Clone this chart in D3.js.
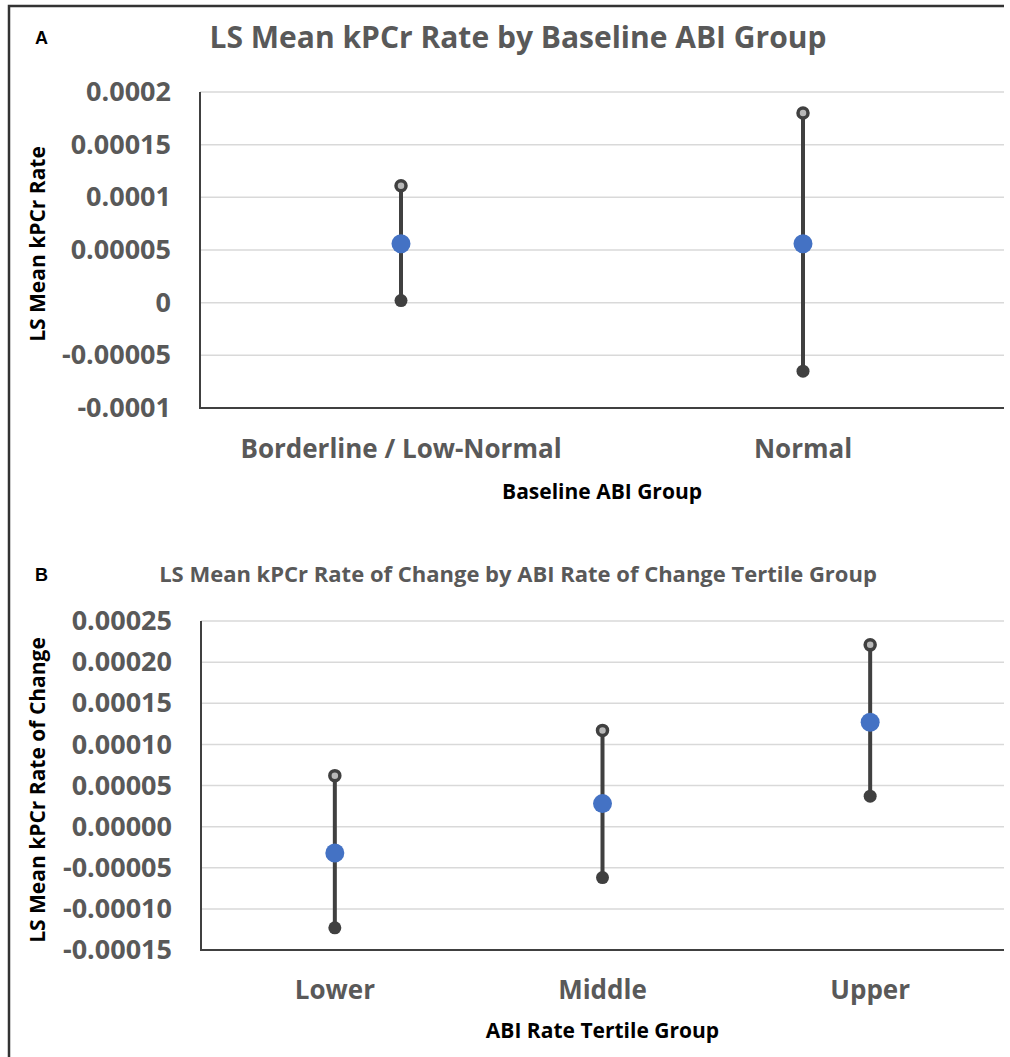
<!DOCTYPE html>
<html>
<head>
<meta charset="utf-8">
<script src="https://cdn.jsdelivr.net/npm/d3@7"></script>
<style>
  body { margin: 0; background: #fff; }
  svg { display: block; font-family: "Open Sans", sans-serif; }
</style>
</head>
<body>
<div id="chart"></div>
<script>
// panel A: LS mean kPCr rate by baseline ABI group
const abiGroups = ['Borderline / Low-Normal', 'Normal'];
const abiMean = [0.000056, 0.000056];
const abiUpper = [0.000111, 0.00018];
const abiLower = [0.000002, -0.000065];
const abiTicks = [-0.0001, -0.00005, 0, 0.00005, 0.0001, 0.00015, 0.0002];
const abiTickLabels = ['-0.0001', '-0.00005', '0', '0.00005', '0.0001', '0.00015', '0.0002'];

// panel B: LS mean kPCr rate of change by ABI rate tertile
const tertileGroups = ['Lower', 'Middle', 'Upper'];
const tertileMean = [-0.000032, 0.000028, 0.000127];
const tertileUpper = [0.000062, 0.000117, 0.000221];
const tertileLower = [-0.000123, -0.000062, 0.000037];
const tertileTicks = [-0.00015, -0.0001, -0.00005, 0, 0.00005, 0.0001, 0.00015, 0.0002, 0.00025];
const tertileTickLabels = ['-0.00015', '-0.00010', '-0.00005', '0.00000', '0.00005', '0.00010', '0.00015', '0.00020', '0.00025'];

const W = 1010, H = 1057;
const svg = d3.select('#chart').append('svg')
  .attr('width', W)
  .attr('height', H);

// outer frame (top + left only, the rest is cropped)
svg.append('path')
  .attr('d', `M9,${H} L9,6 L1004,6`)
  .attr('fill', 'none')
  .attr('stroke', '#333')
  .attr('stroke-width', 2.5);

function drawPanel(p) {
  const g = svg.append('g');

  const x = d3.scaleBand().domain(p.groups).range([p.left, p.right]).padding(0);
  const y = d3.scaleLinear().domain(p.domain).range([p.bottom, p.top]);

  // panel letter
  g.append('text')
    .attr('x', 35).attr('y', p.letterY)
    .style('font-family', 'Arial, "Liberation Sans", sans-serif')
    .style('font-weight', 'bold')
    .style('font-size', '18px')
    .attr('fill', '#000')
    .text(p.letter);

  // title
  g.append('text')
    .attr('x', 518).attr('y', p.titleY)
    .attr('text-anchor', 'middle')
    .style('font-weight', 'bold')
    .style('font-size', p.titleSize + 'px')
    .attr('fill', '#595959')
    .text(p.title);

  // gridlines
  g.append('g')
    .selectAll('line')
    .data(p.ticks.slice(1))
    .join('line')
    .attr('x1', p.left).attr('x2', p.right)
    .attr('y1', d => y(d)).attr('y2', d => y(d))
    .attr('stroke', '#d9d9d9')
    .attr('stroke-width', 1.5);

  // y axis labels
  const yAxis = d3.axisLeft(y)
    .tickValues(p.ticks)
    .tickFormat((d, i) => p.tickLabels[i])
    .tickSize(0)
    .tickPadding(29);
  const ya = g.append('g')
    .attr('transform', `translate(${p.left},0)`)
    .call(yAxis);
  ya.select('.domain').remove();
  ya.selectAll('text')
    .style('font-family', '"Open Sans", sans-serif')
    .style('font-weight', 'bold')
    .style('font-size', p.tickSize + 'px')
    .attr('fill', '#595959');

  // x axis labels
  const xAxis = d3.axisBottom(x).tickSize(0).tickPadding(p.xPad);
  const xa = g.append('g')
    .attr('transform', `translate(0,${p.bottom})`)
    .call(xAxis);
  xa.select('.domain').remove();
  xa.selectAll('text')
    .style('font-family', '"Open Sans", sans-serif')
    .style('font-weight', 'bold')
    .style('font-size', p.xLabelSize + 'px')
    .attr('fill', '#595959');

  // axis lines
  g.append('path')
    .attr('d', `M${p.left},${p.top} L${p.left},${p.bottom} L${p.right},${p.bottom}`)
    .attr('fill', 'none')
    .attr('stroke', '#404040')
    .attr('stroke-width', 2);

  // axis titles
  g.append('text')
    .attr('x', (p.left + p.right) / 2).attr('y', p.xTitleY)
    .attr('text-anchor', 'middle')
    .style('font-weight', 'bold')
    .style('font-size', p.axisTitleSize + 'px')
    .attr('fill', '#000')
    .text(p.xTitle);

  g.append('text')
    .attr('transform', `translate(45,${p.yTitleY}) rotate(-90)`)
    .attr('text-anchor', 'middle')
    .style('font-weight', 'bold')
    .style('font-size', p.axisTitleSize + 'px')
    .attr('fill', '#000')
    .text(p.yTitle);

  const cx = d => x(d) + x.bandwidth() / 2;

  // error bars
  g.append('g').selectAll('line')
    .data(p.groups)
    .join('line')
    .attr('x1', cx).attr('x2', cx)
    .attr('y1', (d, i) => y(p.upper[i]))
    .attr('y2', (d, i) => y(p.lower[i]))
    .attr('stroke', '#404040')
    .attr('stroke-width', 4);

  // upper caps: rings
  g.append('g').selectAll('circle')
    .data(p.groups)
    .join('circle')
    .attr('cx', cx)
    .attr('cy', (d, i) => y(p.upper[i]))
    .attr('r', 5)
    .attr('fill', '#b8b8b8')
    .attr('stroke', '#404040')
    .attr('stroke-width', 3.5);

  // lower caps: filled
  g.append('g').selectAll('circle')
    .data(p.groups)
    .join('circle')
    .attr('cx', cx)
    .attr('cy', (d, i) => y(p.lower[i]))
    .attr('r', 6.5)
    .attr('fill', '#404040');

  // means
  g.append('g').selectAll('circle')
    .data(p.groups)
    .join('circle')
    .attr('cx', cx)
    .attr('cy', (d, i) => y(p.mean[i]))
    .attr('r', 9.5)
    .attr('fill', '#4472c4');
}

drawPanel({
  letter: 'A', letterY: 44,
  title: 'LS Mean kPCr Rate by Baseline ABI Group', titleY: 48, titleSize: 30,
  groups: abiGroups, mean: abiMean, upper: abiUpper, lower: abiLower,
  ticks: abiTicks, tickLabels: abiTickLabels, domain: [-0.0001, 0.0002],
  left: 200, right: 1004, top: 92, bottom: 408,
  tickSize: 27, xLabelSize: 26, xPad: 32,
  xTitle: 'Baseline ABI Group', xTitleY: 499,
  yTitle: 'LS Mean kPCr Rate', yTitleY: 244,
  axisTitleSize: 21
});

drawPanel({
  letter: 'B', letterY: 581,
  title: 'LS Mean kPCr Rate of Change by ABI Rate of Change Tertile Group', titleY: 582, titleSize: 22,
  groups: tertileGroups, mean: tertileMean, upper: tertileUpper, lower: tertileLower,
  ticks: tertileTicks, tickLabels: tertileTickLabels, domain: [-0.00015, 0.00025],
  left: 201, right: 1004, top: 621, bottom: 950,
  tickSize: 27, xLabelSize: 26, xPad: 31,
  xTitle: 'ABI Rate Tertile Group', xTitleY: 1038,
  yTitle: 'LS Mean kPCr Rate of Change', yTitleY: 790,
  axisTitleSize: 21
});
</script>
</body>
</html>
